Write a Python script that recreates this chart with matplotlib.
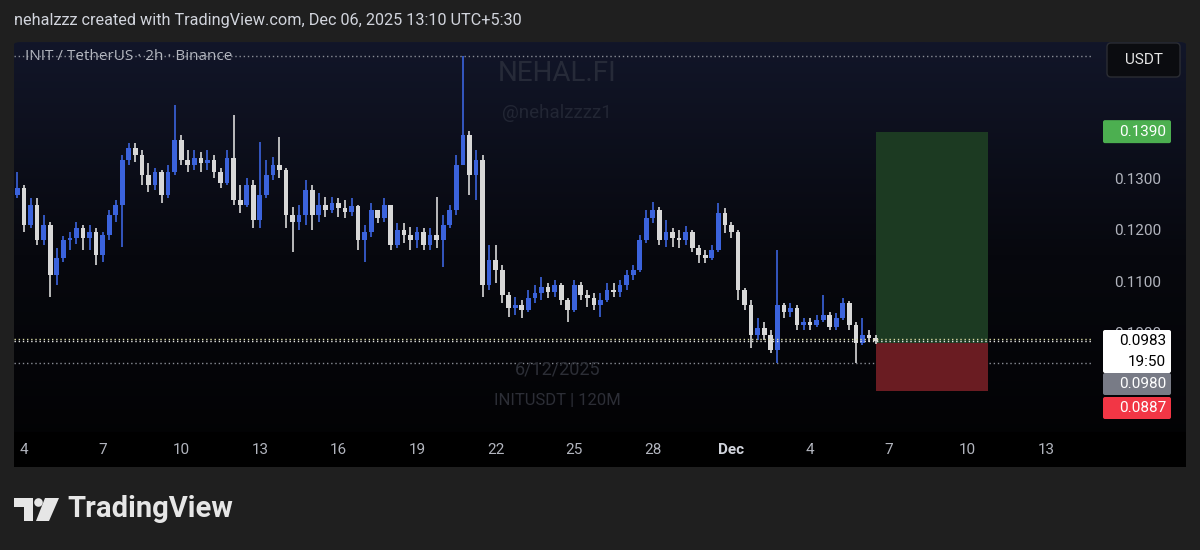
import numpy as np
import matplotlib.pyplot as plt
import matplotlib.transforms as mtransforms
from matplotlib.colors import LinearSegmentedColormap
from matplotlib.patches import FancyBboxPatch, Rectangle, Polygon, Circle

W, H = 1200, 550

# candles are 6h bars, x is days since Nov 4 00:00
first_candle = -0.25
candle_step = 0.25
first_open = 0.1267

closes = [0.1281, 0.1209, 0.1248, 0.1180, 0.1209, 0.1112, 0.1145, 0.1180, 0.1184, 0.1203,
          0.1184, 0.1195, 0.1150, 0.1189, 0.1228, 0.1248, 0.1335, 0.1358, 0.1345, 0.1306,
          0.1286, 0.1312, 0.1267, 0.1312, 0.1374, 0.1335, 0.1325, 0.1339, 0.1329, 0.1335,
          0.1312, 0.1290, 0.1339, 0.1257, 0.1248, 0.1286, 0.1218, 0.1267, 0.1306, 0.1325,
          0.1316, 0.1228, 0.1215, 0.1228, 0.1277, 0.1228, 0.1248, 0.1238, 0.1252, 0.1242,
          0.1234, 0.1246, 0.1180, 0.1195, 0.1238, 0.1222, 0.1248, 0.1170, 0.1199, 0.1189,
          0.1180, 0.1195, 0.1170, 0.1189, 0.1180, 0.1209, 0.1238, 0.1325, 0.1384, 0.1306,
          0.1335, 0.1092, 0.1141, 0.1121, 0.1073, 0.1048, 0.1053, 0.1044, 0.1067, 0.1077,
          0.1088, 0.1079, 0.1092, 0.1063, 0.1044, 0.1092, 0.1073, 0.1067, 0.1053, 0.1063,
          0.1083, 0.1079, 0.1092, 0.1112, 0.1121, 0.1180, 0.1222, 0.1238, 0.1180, 0.1195,
          0.1184, 0.1180, 0.1195, 0.1164, 0.1150, 0.1145, 0.1160, 0.1232, 0.1209, 0.1195,
          0.1083, 0.1053, 0.0995, 0.1009, 0.0995, 0.0966, 0.1053, 0.1040, 0.1048, 0.1015,
          0.1020, 0.1015, 0.1024, 0.1034, 0.1011, 0.1028, 0.1057, 0.1015, 0.0980, 0.0995,
          0.0989, 0.0983]

highs = [0.1312, 0.1286, 0.1261, 0.1261, 0.1228, 0.1215, 0.1164, 0.1187, 0.1195, 0.1215,
         0.1209, 0.1209, 0.1203, 0.1195, 0.1238, 0.1257, 0.1345, 0.1368, 0.1368, 0.1354,
         0.1329, 0.1319, 0.1316, 0.1325, 0.1442, 0.1384, 0.1354, 0.1354, 0.1350, 0.1354,
         0.1345, 0.1319, 0.1354, 0.1422, 0.1286, 0.1300, 0.1296, 0.1370, 0.1335, 0.1341,
         0.1380, 0.1319, 0.1244, 0.1248, 0.1296, 0.1286, 0.1271, 0.1263, 0.1263, 0.1261,
         0.1257, 0.1261, 0.1248, 0.1209, 0.1252, 0.1238, 0.1261, 0.1248, 0.1213, 0.1213,
         0.1205, 0.1205, 0.1203, 0.1203, 0.1263, 0.1228, 0.1248, 0.1345, 0.1536, 0.1392,
         0.1354, 0.1345, 0.1170, 0.1170, 0.1131, 0.1079, 0.1069, 0.1063, 0.1083, 0.1092,
         0.1108, 0.1096, 0.1102, 0.1096, 0.1067, 0.1102, 0.1098, 0.1083, 0.1077, 0.1077,
         0.1096, 0.1096, 0.1102, 0.1121, 0.1131, 0.1189, 0.1238, 0.1253, 0.1244, 0.1218,
         0.1203, 0.1199, 0.1207, 0.1199, 0.1170, 0.1160, 0.1170, 0.1252, 0.1242, 0.1215,
         0.1199, 0.1086, 0.1063, 0.1028, 0.1020, 0.1005, 0.1160, 0.1057, 0.1057, 0.1053,
         0.1028, 0.1028, 0.1034, 0.1073, 0.1040, 0.1038, 0.1067, 0.1062, 0.1020, 0.1028,
         0.1005, 0.0995]

lows = [0.1261, 0.1195, 0.1203, 0.1170, 0.1170, 0.1069, 0.1092, 0.1137, 0.1160, 0.1172,
        0.1160, 0.1160, 0.1131, 0.1137, 0.1180, 0.1215, 0.1166, 0.1325, 0.1331, 0.1286,
        0.1273, 0.1277, 0.1252, 0.1261, 0.1306, 0.1325, 0.1312, 0.1316, 0.1312, 0.1316,
        0.1300, 0.1281, 0.1286, 0.1248, 0.1232, 0.1244, 0.1203, 0.1203, 0.1261, 0.1296,
        0.1300, 0.1203, 0.1156, 0.1199, 0.1209, 0.1199, 0.1215, 0.1224, 0.1232, 0.1224,
        0.1222, 0.1226, 0.1160, 0.1137, 0.1185, 0.1213, 0.1215, 0.1160, 0.1165, 0.1174,
        0.1160, 0.1164, 0.1160, 0.1160, 0.1164, 0.1127, 0.1203, 0.1228, 0.1325, 0.1267,
        0.1257, 0.1069, 0.1083, 0.1096, 0.1057, 0.1030, 0.1034, 0.1028, 0.1040, 0.1057,
        0.1063, 0.1067, 0.1069, 0.1053, 0.1020, 0.1040, 0.1063, 0.1050, 0.1044, 0.1030,
        0.1059, 0.1069, 0.1069, 0.1083, 0.1102, 0.1117, 0.1174, 0.1213, 0.1170, 0.1166,
        0.1166, 0.1164, 0.1170, 0.1156, 0.1135, 0.1135, 0.1141, 0.1156, 0.1193, 0.1184,
        0.1063, 0.1044, 0.0970, 0.0985, 0.0985, 0.0960, 0.0941, 0.1028, 0.1030, 0.1005,
        0.1005, 0.1005, 0.1011, 0.1020, 0.1005, 0.1005, 0.1024, 0.1005, 0.0941, 0.0976,
        0.0982, 0.0978]

# long position tool
pos_start = 32.52
pos_end = 36.79
entry_price = 0.0980
target_price = 0.1390
stop_price = 0.0887

last_price = 0.0983
range_high = 0.1536
range_low = 0.0941

price_ticks = [0.1000, 0.1100, 0.1200, 0.1300]
time_ticks = [0, 3, 6, 9, 12, 15, 18, 21, 24, 27, 30, 33, 36, 39]
time_labels = ['4', '7', '10', '13', '16', '19', '22', '25', '28', 'Dec', '4', '7', '10', '13']

UP = '#3b63dc'
DOWN = '#d8d8d8'
TXT = '#b2b5be'
FONT = ['Roboto', 'DejaVu Sans']


def fx(px):
    return px / W


def fy(py):
    return 1 - py / H


fig = plt.figure(figsize=(12, 5.5), dpi=100, facecolor='#1f1f1f')
pix = mtransforms.Affine2D().scale(1 / W, -1 / H).translate(0, 1) + fig.transFigure

# chart panel background (navy -> black gradient)
bg = fig.add_axes([fx(14), fy(467), (1186 - 14) / W, (467 - 42) / H])
bg.set_axis_off()
cmap = LinearSegmentedColormap.from_list('panel', ['#121629', '#07080e', '#020203'])
grad = np.linspace(0, 1, 256).reshape(-1, 1)
im = bg.imshow(grad, cmap=cmap, aspect='auto', extent=[0, 1, 0, 1], origin='upper')
clip = FancyBboxPatch((0, 0), 1, 1, boxstyle='round,pad=0,rounding_size=0.006',
                      transform=bg.transAxes, facecolor='none', edgecolor='none')
bg.add_patch(clip)
im.set_clip_path(clip)
bg.set_xlim(0, 1)
bg.set_ylim(0, 1)

# time scale strip
tax = fig.add_axes([fx(14), fy(467), (1186 - 14) / W, (467 - 432) / H])
tax.set_facecolor('#000000')
tax.set_xlim(-0.382, 44.35)
tax.set_ylim(0, 1)
tax.set_xticks([])
tax.set_yticks([])
for s in tax.spines.values():
    s.set_visible(False)
for d, lab in zip(time_ticks, time_labels):
    tax.text(d, 0.5, lab, ha='center', va='center', color='#d1d4dc' if lab == 'Dec' else TXT,
             fontsize=11, fontweight='bold' if lab == 'Dec' else 'normal', family=FONT)

# main price pane
ax = fig.add_axes([fx(14), fy(432), (1092 - 14) / W, (432 - 42) / H])
ax.patch.set_alpha(0)
ax.set_xlim(-0.382, 40.76)
ax.set_ylim(0.0807, 0.1564)
for s in ax.spines.values():
    s.set_visible(False)

# watermarks
ax.text(20.35, 0.1503, 'NEHAL.FI', ha='center', va='center', color='#262a38', fontsize=20, family=FONT)
ax.text(20.35, 0.1427, '@nehalzzzz1', ha='center', va='center', color='#222634', fontsize=13.5, family=FONT)
ax.text(20.35, 0.0929, '6/12/2025', ha='center', va='center', color='#2c2e36', fontsize=13, family=FONT)
ax.text(20.35, 0.0869, 'INITUSDT | 120M', ha='center', va='center', color='#2c2e36', fontsize=12, family=FONT)

days = first_candle + candle_step * np.arange(len(closes))
opens = np.array([first_open] + closes[:-1])
closes_a = np.array(closes)
colors = [UP if c >= o else DOWN for o, c in zip(opens, closes_a)]
bottoms = np.minimum(opens, closes_a)
heights = np.maximum(np.abs(closes_a - opens), 0.00012)

ax.vlines(days, lows, highs, colors=colors, linewidth=1.2, zorder=3)
ax.bar(days, heights, width=0.18, bottom=bottoms, color=colors, linewidth=0, zorder=4)

# position box
ax.add_patch(Rectangle((pos_start, entry_price), pos_end - pos_start, target_price - entry_price,
                       facecolor='#1c3a22', edgecolor='none', zorder=2))
ax.add_patch(Rectangle((pos_start, stop_price), pos_end - pos_start, entry_price - stop_price,
                       facecolor='#6a1c22', edgecolor='none', zorder=2))

# dotted level lines
ax.axhline(range_high, color='#8a8d96', linestyle=(0, (1, 2)), linewidth=1, zorder=1)
ax.axhline(range_low, color='#8a8d96', linestyle=(0, (1, 2)), linewidth=1, zorder=1)
ax.axhline(last_price + 0.0004, color='#d8d8a0', linestyle=(0, (1, 2)), linewidth=1, zorder=5)
ax.axhline(last_price, color='#e8e8e8', linestyle=(0, (1, 2)), linewidth=1, zorder=5)

# price scale
ax.set_xticks([])
ax.yaxis.tick_right()
ax.set_yticks(price_ticks)
ax.set_yticklabels(['%.4f' % p for p in price_ticks])
ax.tick_params(axis='y', length=0, pad=16, labelcolor=TXT, labelsize=11)
for t in ax.get_yticklabels():
    t.set_family(FONT)

ax.text(0.01, 0.1536, 'INIT / TetherUS \u00b7 2h \u00b7 Binance', transform=ax.get_yaxis_transform(),
        ha='left', va='center', color=TXT, fontsize=11, family=['Open Sans', 'DejaVu Sans'], zorder=6)


def price_box(y0, y1, face, lines, tcolor):
    fig.add_artist(FancyBboxPatch((1103, y0), 68, y1 - y0, boxstyle='round,pad=0,rounding_size=2',
                                  transform=pix, facecolor=face, edgecolor='none', zorder=5))
    n = len(lines)
    for i, s in enumerate(lines):
        yc = y0 + (y1 - y0) * (i + 0.5) / n
        fig.text(fx(1166), fy(yc), s, ha='right', va='center', color=tcolor, fontsize=11,
                 family=FONT, zorder=6)


# label for target sits on its price
ty = H * (1 - (ax.transData.transform((0, target_price))[1] / (fig.dpi * 5.5)))
price_box(ty - 11.5, ty + 11.5, '#4caf50', ['0.1390'], 'white')
price_box(330, 373, '#ffffff', ['0.0983', '19:50'], 'black')
price_box(373, 395, '#787b86', ['0.0980'], 'white')
price_box(397, 419, '#f23645', ['0.0887'], 'white')

# currency button
fig.add_artist(FancyBboxPatch((1107, 43), 73, 34, boxstyle='round,pad=0,rounding_size=4',
                              transform=pix, facecolor='#0b0c10', edgecolor='#2b2d33', linewidth=1, zorder=5))
fig.text(fx(1143.5), fy(60), 'USDT', ha='center', va='center', color='#e6e6e6', fontsize=11,
         family=FONT, zorder=6)

# header
fig.text(fx(14), fy(20), 'nehalzzz created with TradingView.com, Dec 06, 2025 13:10 UTC+5:30',
         ha='left', va='center', color='#d1d4dc', fontsize=11.7, family=FONT)

# TradingView logo
logo = '#e6e6e6'
fig.add_artist(Polygon([(14, 498), (33, 498), (33, 521), (24, 521), (24, 507), (14, 507)],
                       closed=True, transform=pix, facecolor=logo, edgecolor='none'))
fig.add_artist(Circle((38.5, 502.5), 4.3, transform=pix, facecolor=logo, edgecolor='none'))
fig.add_artist(Polygon([(45, 498), (59, 498), (49, 521), (36, 521)],
                       closed=True, transform=pix, facecolor=logo, edgecolor='none'))
fig.text(fx(67), fy(509), 'TradingView', ha='left', va='center', color=logo, fontsize=21,
         fontweight='bold', family=FONT)

fig.savefig('out.png', dpi=100, facecolor=fig.get_facecolor())
